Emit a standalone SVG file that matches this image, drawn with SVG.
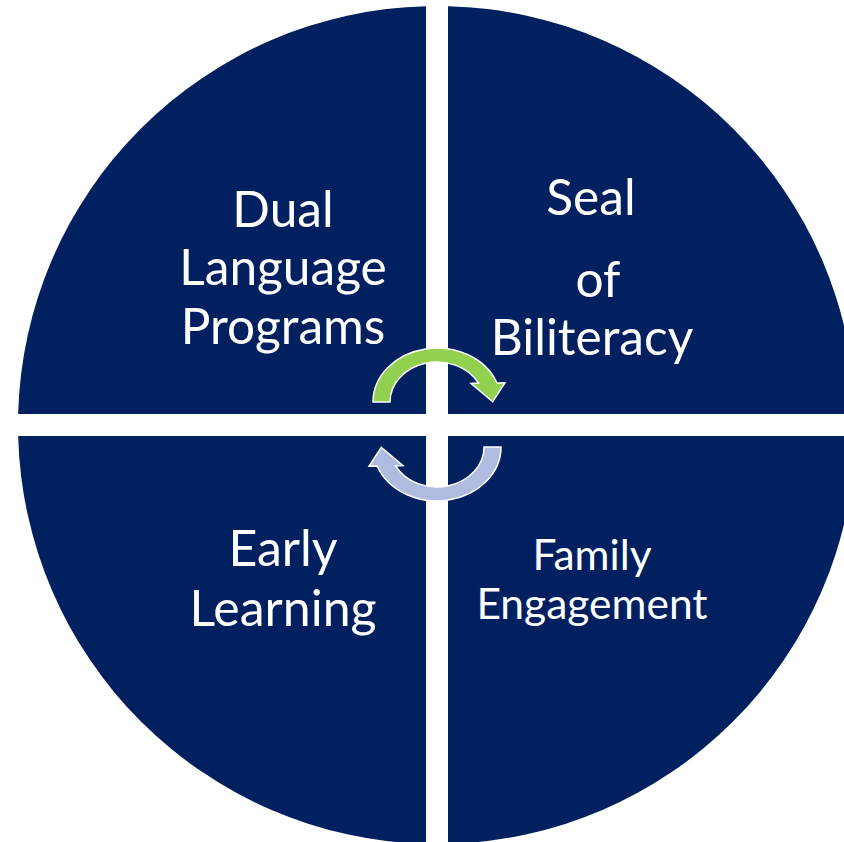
<svg xmlns="http://www.w3.org/2000/svg" width="844" height="842" viewBox="0 0 844 842">
<style>
.q{fill:#002060}
.t{fill:#ffffff;font-family:Lato,"Open Sans","Liberation Sans",sans-serif;text-anchor:middle}
.arr{stroke:#ffffff;stroke-width:1.5;stroke-linejoin:miter}
</style>
<rect width="844" height="842" fill="#ffffff"/>
<g id="dual-language-programs">
<path class="q" d="M426,414 H18.14 A419,419 0 0 1 426,6.14 Z"/>
<text class="t" font-size="49.6" x="283" y="227">Dual</text>
<text class="t" font-size="49.6" x="283" y="285">Language</text>
<text class="t" font-size="49.6" x="283" y="344">Programs</text>
</g>
<g id="seal-of-biliteracy">
<path class="q" d="M448,414 V6.14 A419,419 0 0 1 855.86,414 Z"/>
<text class="t" font-size="49.6" x="591" y="215">Seal</text>
<text class="t" font-size="49.6" x="598" y="297">of</text>
<text class="t" font-size="49.6" x="592" y="355">Biliteracy</text>
</g>
<g id="early-learning">
<path class="q" d="M426,436 V843.86 A419,419 0 0 1 18.14,436 Z"/>
<text class="t" font-size="50" x="283" y="566">Early</text>
<text class="t" font-size="50" x="283" y="626">Learning</text>
</g>
<g id="family-engagement">
<path class="q" d="M448,436 H855.86 A419,419 0 0 1 448,843.86 Z"/>
<text class="t" font-size="42.5" x="592" y="570">Family</text>
<text class="t" font-size="42.5" x="592" y="619">Engagement</text>
</g>
<g id="connectors">
<path class="arr" fill="#92D050" d="M373,402 A64,54 0 0 1 496.9,383 L505,382.7 L492.7,401.7 L471,383.3 L478.4,383 A47,40 0 0 0 390,402 Z"/>
<path class="arr" fill="#B0BCDF" transform="rotate(180 437 424.5)" d="M373,402 A64,54 0 0 1 496.9,383 L505,382.7 L492.7,401.7 L471,383.3 L478.4,383 A47,40 0 0 0 390,402 Z"/>
</g>
</svg>
